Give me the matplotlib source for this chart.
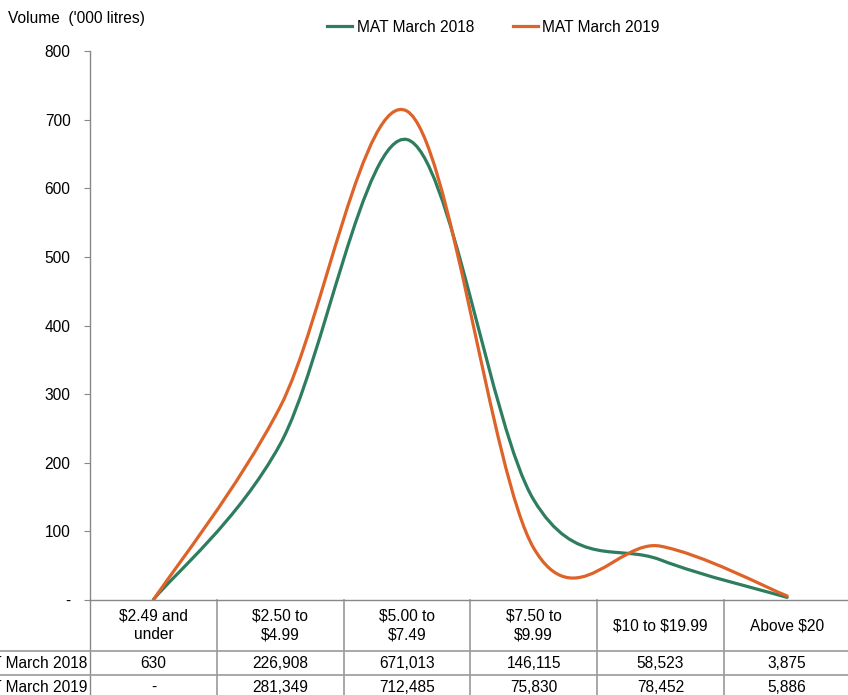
import numpy as np
import matplotlib.pyplot as plt
from matplotlib.path import Path
from matplotlib.patches import PathPatch
from matplotlib.transforms import blended_transform_factory

plt.rcParams['font.family'] = ['Liberation Sans', 'DejaVu Sans']
plt.rcParams['text.parse_math'] = False

categories = ["$2.49 and\nunder", "$2.50 to\n$4.99", "$5.00 to\n$7.49",
              "$7.50 to\n$9.99", "$10 to $19.99", "Above $20"]
series_names = ["MAT March 2018", "MAT March 2019"]
vol_2018 = [630, 226908, 671013, 146115, 58523, 3875]
vol_2019 = [0, 281349, 712485, 75830, 78452, 5886]
table_2018 = ["630", "226,908", "671,013", "146,115", "58,523", "3,875"]
table_2019 = ["-", "281,349", "712,485", "75,830", "78,452", "5,886"]
colors = ["#2E7D5E", "#DD6329"]
yticks = [0, 100, 200, 300, 400, 500, 600, 700, 800]
ytick_labels = ["-", "100", "200", "300", "400", "500", "600", "700", "800"]

FS = 11.2
W, H = 848, 695
fig = plt.figure(figsize=(W / 100, H / 100), dpi=100)
ax = fig.add_axes([90 / W, (H - 600) / H, 760.5 / W, 549 / H])


def smooth_path(x, y):
    # Excel-style smoothed line: Catmull-Rom converted to cubic Bezier
    n = len(x)
    verts = [(x[0], y[0])]
    codes = [Path.MOVETO]
    for i in range(n - 1):
        i0, i3 = max(i - 1, 0), min(i + 2, n - 1)
        c1 = (x[i] + (x[i + 1] - x[i0]) / 6, y[i] + (y[i + 1] - y[i0]) / 6)
        c2 = (x[i + 1] - (x[i3] - x[i]) / 6, y[i + 1] - (y[i3] - y[i]) / 6)
        verts += [c1, c2, (x[i + 1], y[i + 1])]
        codes += [Path.CURVE4] * 3
    return Path(verts, codes)


xs = np.arange(len(categories), dtype=float)
for name, vals, col in zip(series_names, [vol_2018, vol_2019], colors):
    ys = np.array(vals) / 1000.0
    ax.add_patch(PathPatch(smooth_path(xs, ys), fill=False, edgecolor=col,
                           lw=2.3, capstyle='round'))
    ax.plot([], [], color=col, lw=2.3, label=name)

ax.set_xlim(-0.5, 5.5)
ax.set_ylim(0, 800)
ax.set_yticks(yticks)
ax.set_yticklabels(ytick_labels, fontsize=FS)
ax.set_xticks([])
ax.tick_params(axis='y', length=4, color='#888888', pad=10)
for s in ['top', 'right']:
    ax.spines[s].set_visible(False)
for s in ['left', 'bottom']:
    ax.spines[s].set_color('#888888')
    ax.spines[s].set_linewidth(1)

fig.text(8 / W, 1 - 18 / H, "Volume  ('000 litres)", fontsize=FS, va='center')
fig.legend(loc='center', bbox_to_anchor=(493.5 / W, 1 - 27 / H), ncol=2,
           frameon=False, fontsize=FS, handlelength=1.6, handletextpad=0.3,
           columnspacing=2.5)

# data table below the axis
tr = blended_transform_factory(ax.transData, ax.transAxes)
px = 1 / 549
row_edges = [0, -51 * px, -75 * px, -99 * px]
for i, lab in enumerate(categories):
    ax.text(i, (row_edges[0] + row_edges[1]) / 2, lab, transform=tr,
            ha='center', va='center', fontsize=FS, linespacing=1.3, clip_on=False)
    ax.text(i, (row_edges[1] + row_edges[2]) / 2, table_2018[i], transform=tr,
            ha='center', va='center', fontsize=FS, clip_on=False)
    ax.text(i, (row_edges[2] + row_edges[3]) / 2, table_2019[i], transform=tr,
            ha='center', va='center', fontsize=FS, clip_on=False)
for k in range(1, len(categories) + 1):
    ax.plot([k - 0.5, k - 0.5], [0, row_edges[3]], transform=tr,
            color='#999999', lw=1.2, clip_on=False)
ax.plot([-0.5, -0.5], [0, row_edges[3]], transform=tr,
        color='#888888', lw=1, clip_on=False)
ftr = blended_transform_factory(fig.transFigure, ax.transAxes)
for y in row_edges[1:3]:
    fig.add_artist(plt.Line2D([0, 1], [y, y], color='#999999', lw=1.2,
                              transform=ftr))

for name, y0, y1 in zip(series_names, row_edges[1:3], row_edges[2:4]):
    ax.text(-0.5 - 3 / 126.75, (y0 + y1) / 2, name, transform=tr,
            ha='right', va='center', fontsize=FS, clip_on=False)

fig.savefig("out.png", dpi=100)
